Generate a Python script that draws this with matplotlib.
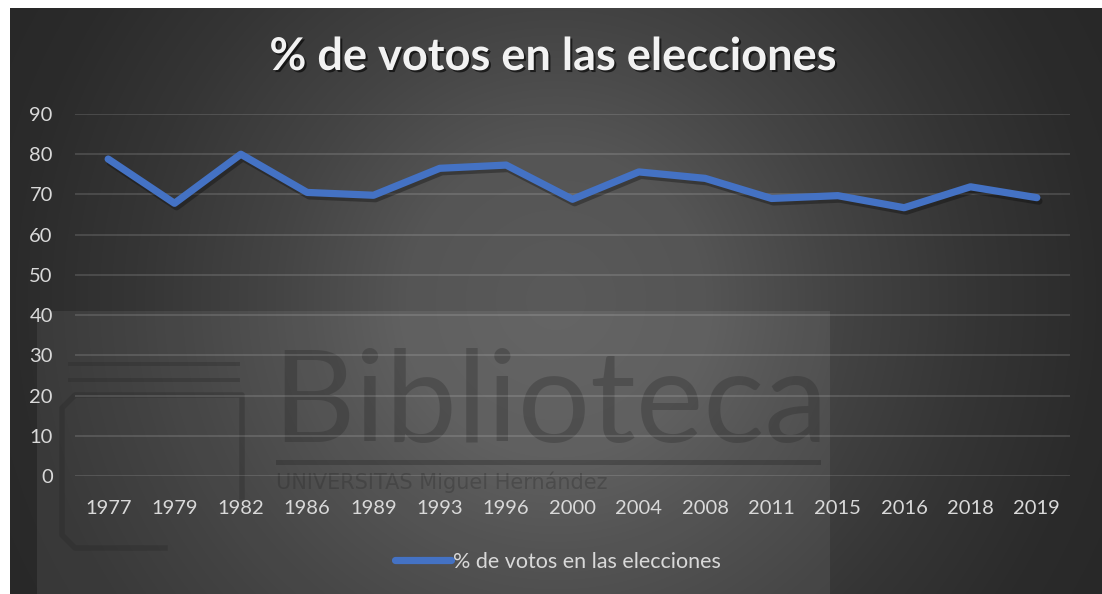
import numpy as np
import matplotlib
matplotlib.use("Agg")
import matplotlib.pyplot as plt
import matplotlib.patheffects as pe
from matplotlib.patches import Rectangle
from matplotlib.lines import Line2D

# ---------------- data ----------------
years = ["1977", "1979", "1982", "1986", "1989", "1993", "1996", "2000",
         "2004", "2008", "2011", "2015", "2016", "2018", "2019"]
turnout = [78.8, 67.8, 80.0, 70.5, 69.8, 76.5, 77.3, 68.8,
           75.6, 74.0, 69.0, 69.7, 66.7, 71.9, 69.2]
yticks = [0, 10, 20, 30, 40, 50, 60, 70, 80, 90]
series_name = "% de votos en las elecciones"
title_text = "% de votos en las elecciones"

W, H = 1102, 594
plt.rcParams['font.family'] = ['Lato', 'DejaVu Sans']

fig = plt.figure(figsize=(W / 100, H / 100), dpi=100, facecolor="white")

# ---------------- background (radial dark gradient) ----------------
bg = fig.add_axes([10 / W, 0, (W - 10) / W, (H - 8) / H], zorder=0)
bg.set_axis_off()
xs = np.arange(10, W) + 0.5
ys = np.arange(8, H) + 0.5
X, Y = np.meshgrid(xs, ys)
r = np.hypot(X - 556, (Y - 300) * 1.0)
lev = np.interp(r, [0, 150, 280, 420, 540, 700],
                [0x5a, 0x55, 0x44, 0x35, 0x2b, 0x25]) / 255.0
img = np.dstack([lev, lev, lev])
bg.imshow(img, extent=(10, W, H, 8), aspect="auto", interpolation="bilinear")
bg.set_xlim(10, W)
bg.set_ylim(H, 8)

# watermark (semi-transparent library logo)
bg.add_patch(Rectangle((37, 311), 793, 283, facecolor="white", alpha=0.07,
                       edgecolor="none"))
wm = "#262626"
bg.text(272, 442, "Biblioteca", fontsize=92, color=wm, alpha=0.3,
        family="Lato", fontweight="normal", va="baseline", ha="left")
bg.add_patch(Rectangle((276, 460), 545, 5, facecolor=wm, alpha=0.35,
                       edgecolor="none"))
bg.text(276, 489, "UNIVERSITAS Miguel Hernández", fontsize=15, color=wm,
        alpha=0.3, family="DejaVu Sans", va="baseline", ha="left")
for yy in (362, 378):
    bg.add_patch(Rectangle((68, yy), 172, 4, facecolor=wm, alpha=0.3,
                           edgecolor="none"))
bg.add_line(Line2D([242, 242, 75, 62, 62, 75, 165],
                   [497, 395, 395, 408, 535, 548, 548],
                   color=wm, alpha=0.3, linewidth=4, solid_joinstyle="round"))

# ---------------- main chart ----------------
L, R, T, B = 75, 1070, 114, 476
ax = fig.add_axes([L / W, (H - B) / H, (R - L) / W, (B - T) / H], zorder=1)
ax.patch.set_alpha(0)
for s in ax.spines.values():
    s.set_visible(False)

x = np.arange(len(years))
ax.plot(x, turnout, color="#4472C4", linewidth=5.2, solid_joinstyle="round",
        solid_capstyle="round", zorder=3,
        path_effects=[pe.SimpleLineShadow(offset=(1.5, -2.5), shadow_color="black",
                                          alpha=0.3),
                      pe.Normal()],
        label=series_name)

ax.set_xlim(-0.5, len(years) - 0.5)
ax.set_ylim(0, 90)
ax.set_yticks(yticks)
ax.set_xticks(x)
ax.set_xticklabels(years)
ax.yaxis.grid(True, color="white", alpha=0.14, linewidth=1.3)
ax.xaxis.grid(False)
ax.set_axisbelow(True)
ax.tick_params(axis="both", length=0, labelsize=14.5, colors="#d9d9d9")
ax.tick_params(axis="y", pad=16)
ax.tick_params(axis="x", pad=17)

# title
fig.text(553 / W, 1 - 70 / H, title_text, ha="center", va="baseline",
         fontsize=32.5, fontweight="bold", color="#f2f2f2",
         path_effects=[pe.SimplePatchShadow(offset=(1.5, -1.5),
                                            shadow_rgbFace="black", alpha=0.6),
                       pe.Normal()])

# legend
leg = fig.legend(handles=ax.get_lines(), loc="center",
                 bbox_to_anchor=(558 / W, 1 - 562 / H), frameon=False,
                 fontsize=15.5, handlelength=2.6, handletextpad=0.12,
                 labelcolor="#d9d9d9")
for h in leg.legend_handles:
    h.set_path_effects([pe.Normal()])

fig.savefig("out.png", dpi=100, facecolor="white")
